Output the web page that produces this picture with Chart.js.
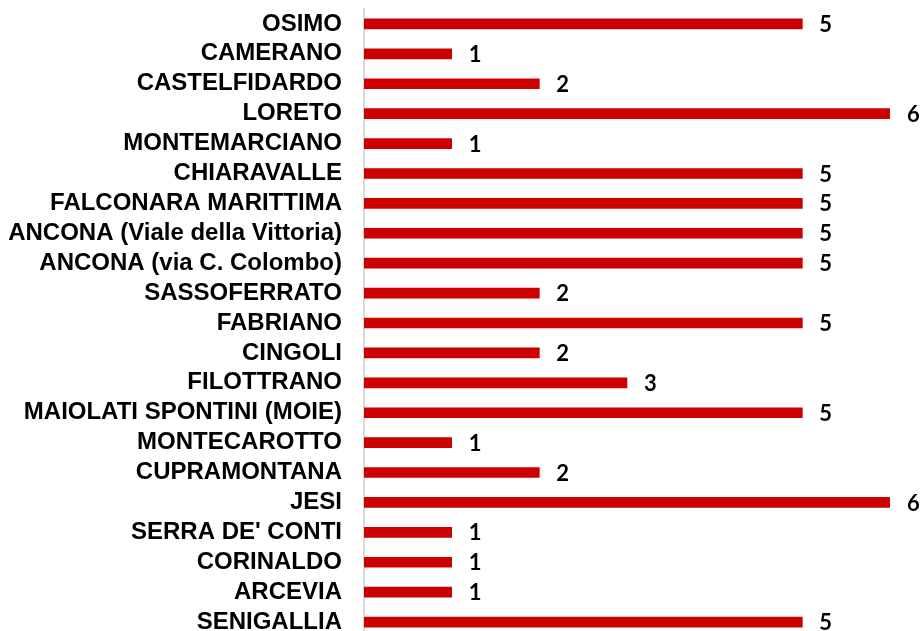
<!DOCTYPE html>
<html>
<head>
<meta charset="utf-8">
<script src="https://cdn.jsdelivr.net/npm/chart.js@4"></script>
<style>
  html,body{margin:0;padding:0;background:#fff;overflow:hidden;}
  #chart{position:absolute;left:0;top:0;width:920px;height:640px;}
</style>
</head>
<body>
<canvas id="chart" width="920" height="640"></canvas>
<script>
/* ===============================
  Dati
================================ */
const comuni = [
    'OSIMO','CAMERANO','CASTELFIDARDO','LORETO','MONTEMARCIANO','CHIARAVALLE',
    'FALCONARA MARITTIMA','ANCONA (Viale della Vittoria)','ANCONA (via C. Colombo)',
    'SASSOFERRATO','FABRIANO','CINGOLI','FILOTTRANO','MAIOLATI SPONTINI (MOIE)',
    'MONTECAROTTO','CUPRAMONTANA','JESI',"SERRA DE' CONTI",'CORINALDO','ARCEVIA','SENIGALLIA'
];
const valori = [5,1,2,6,1,5,5,5,5,2,5,2,3,5,1,2,6,1,1,1,5];

/* etichette valore a destra della barra */
const valueLabels = {
    id:'valueLabels',
    afterDatasetsDraw(chart){
        const ctx = chart.ctx;
        const meta = chart.getDatasetMeta(0);
        ctx.save();
        ctx.font = 'bold 22px Lato';
        ctx.fillStyle = '#000';
        ctx.textBaseline = 'middle';
        ctx.textAlign = 'left';
        meta.data.forEach((bar,i)=>{
            ctx.fillText(String(valori[i]), bar.x + 17, bar.y + 1);
        });
        ctx.restore();
    }
};

new Chart(document.getElementById('chart'),{
    type:'bar',
    data:{
        labels:comuni,
        datasets:[{
            data:valori,
            backgroundColor:'#cc0000',
            barThickness:10
        }]
    },
    options:{
        indexAxis:'y',
        responsive:false,
        animation:false,
        layout:{padding:{top:9,bottom:3,right:30}},
        plugins:{legend:{display:false},tooltip:{enabled:false}},
        scales:{
            x:{display:false,min:0,max:6},
            y:{
                grid:{display:false,drawTicks:false},
                border:{display:true,color:'#d9d9d9',width:2},
                ticks:{
                    color:'#000',
                    padding:22,
                    autoSkip:false,
                    font:{family:'"Liberation Sans", Arial',size:24,weight:'bold'}
                },
                afterFit(scale){
                    scale.width = 364;
                    scale.paddingTop = 0;
                    scale.paddingBottom = 0;
                }
            }
        }
    },
    plugins:[valueLabels]
});
</script>
</body>
</html>
